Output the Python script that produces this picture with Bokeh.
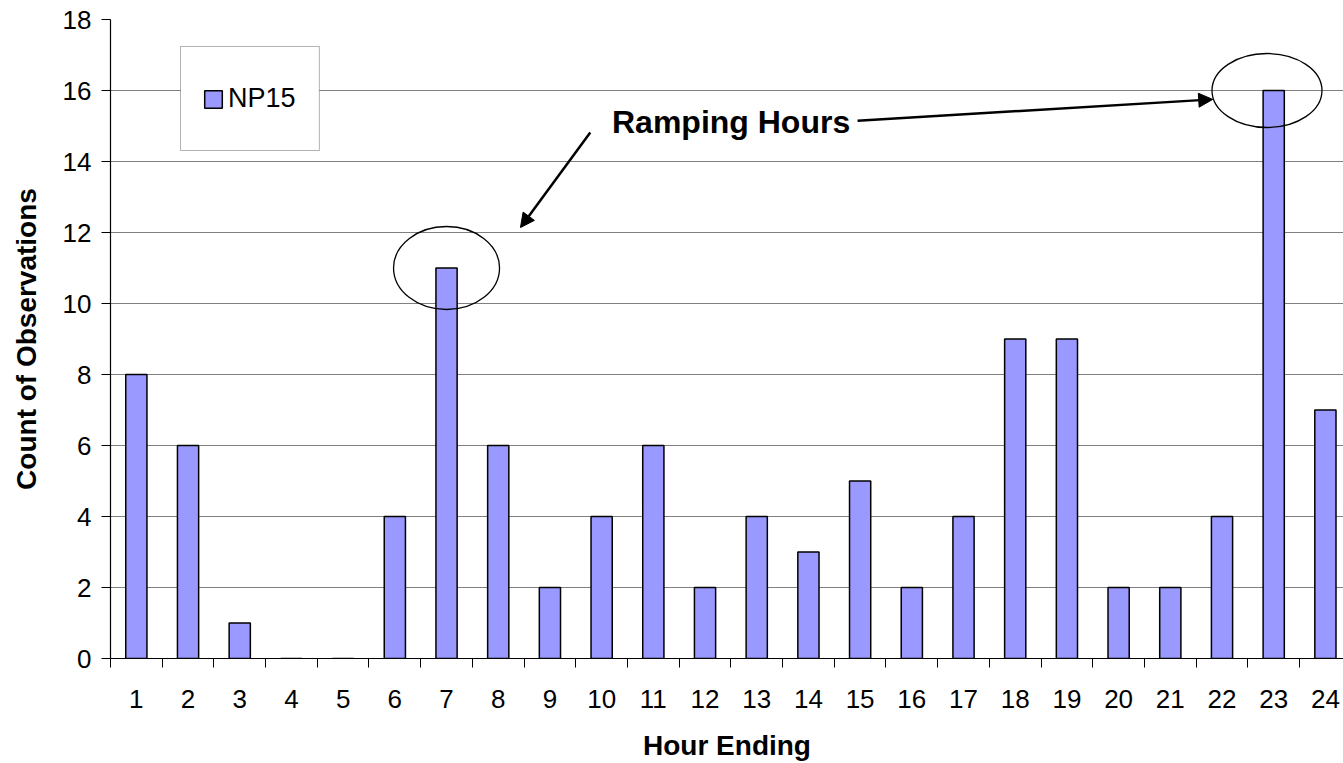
from bokeh.plotting import figure
from bokeh.models import (FixedTicker, Range1d, Legend, LegendItem, Arrow, NormalHead,
                          Label, BoxAnnotation, ColumnDataSource)
from bokeh.embed import file_html
from bokeh.resources import INLINE

# Count of observations per hour ending, NP15
hours = list(range(1, 25))
counts = [8, 6, 1, 0, 0, 4, 11, 6, 2, 4, 6, 2, 4, 3, 5, 2, 4, 9, 9, 2, 2, 4, 16, 7]
y_ticks = [0, 2, 4, 6, 8, 10, 12, 14, 16, 18]
series_name = "NP15"
ramping_hours = [7, 23]

FONT = "Liberation Sans"
BAR_FILL = "#9999FF"

src = ColumnDataSource(data=dict(hour=hours, count=counts))

p = figure(width=1343, height=763, output_backend="svg", toolbar_location=None,
           x_range=Range1d(0.5, 24.35), y_range=Range1d(0, 18),
           min_border_left=110, min_border_top=19, min_border_right=0, min_border_bottom=0)
p.outline_line_color = None
p.background_fill_color = "white"
p.border_fill_color = "white"

bars = p.vbar(x="hour", top="count", width=0.41, source=src,
              fill_color=BAR_FILL, line_color="black", line_width=1.5)

# x axis: labels at hour centres, tick marks between hours
xa = p.xaxis[0]
xa.ticker = FixedTicker(ticks=hours, minor_ticks=[h - 0.5 for h in hours])
xa.major_tick_out = 0
xa.major_tick_in = 0
xa.minor_tick_out = 9
xa.minor_tick_in = 0
xa.minor_tick_line_color = "black"
xa.axis_line_color = "black"
xa.axis_line_width = 1.2
xa.major_label_text_font = FONT
xa.major_label_text_font_size = "26px"
xa.major_label_text_color = "black"
xa.major_label_standoff = 22
xa.axis_label = "Hour Ending"
xa.axis_label_text_font = FONT
xa.axis_label_text_font_size = "28px"
xa.axis_label_text_font_style = "bold"
xa.axis_label_text_color = "black"
xa.axis_label_standoff = 19

ya = p.yaxis[0]
ya.ticker = FixedTicker(ticks=y_ticks)
ya.major_tick_out = 9
ya.major_tick_in = 0
ya.minor_tick_out = 0
ya.minor_tick_in = 0
ya.major_tick_line_color = "black"
ya.axis_line_color = "black"
ya.axis_line_width = 1.2
ya.major_label_text_font = FONT
ya.major_label_text_font_size = "26px"
ya.major_label_text_color = "black"
ya.major_label_standoff = 10
ya.axis_label = "Count of Observations"
ya.axis_label_text_font = FONT
ya.axis_label_text_font_size = "28px"
ya.axis_label_text_font_style = "bold"
ya.axis_label_text_color = "black"
ya.axis_label_standoff = 18

p.xgrid.visible = False
p.ygrid.grid_line_color = "#808080"
p.ygrid.grid_line_width = 1.2

# Highlight rings around the ramping-hour bars
ring_shift = [0.0, -0.13]
ring_x = [h + d for h, d in zip(ramping_hours, ring_shift)]
ring_y = [counts[h - 1] for h in ramping_hours]
p.ellipse(x=ring_x, y=ring_y, width=[106, 110], height=[83, 74],
          width_units="screen", height_units="screen",
          fill_color=None, line_color="black", line_width=1.3)

# Callout text and arrows
p.add_layout(Label(x=10.2, y=15.1, text="Ramping Hours", text_font=FONT,
                   text_font_size="32px", text_font_style="bold",
                   text_color="black", text_baseline="alphabetic"))
p.add_layout(Arrow(x_start=9.78, y_start=14.82, x_end=8.43, y_end=12.14,
                   line_width=2.5, line_color="black",
                   end=NormalHead(size=14, fill_color="black", line_color="black")))
p.add_layout(Arrow(x_start=14.95, y_start=15.15, x_end=21.82, y_end=15.75,
                   line_width=2.5, line_color="black",
                   end=NormalHead(size=14, fill_color="black", line_color="black")))

# Legend frame and entry
p.add_layout(BoxAnnotation(left=1.854, right=4.54, bottom=14.31, top=17.24,
                           fill_color="white", fill_alpha=1.0,
                           line_color="black", line_width=1.0))
legend = Legend(items=[LegendItem(label=series_name, renderers=[bars])],
                location=(92, 544), padding=0, margin=0, spacing=0,
                glyph_width=22, glyph_height=22, label_height=22, label_standoff=4,
                label_text_font=FONT, label_text_font_size="27px",
                label_text_color="black",
                border_line_color=None, background_fill_alpha=0.0)
p.add_layout(legend)

open("out.html", "w").write(file_html(p, INLINE))
